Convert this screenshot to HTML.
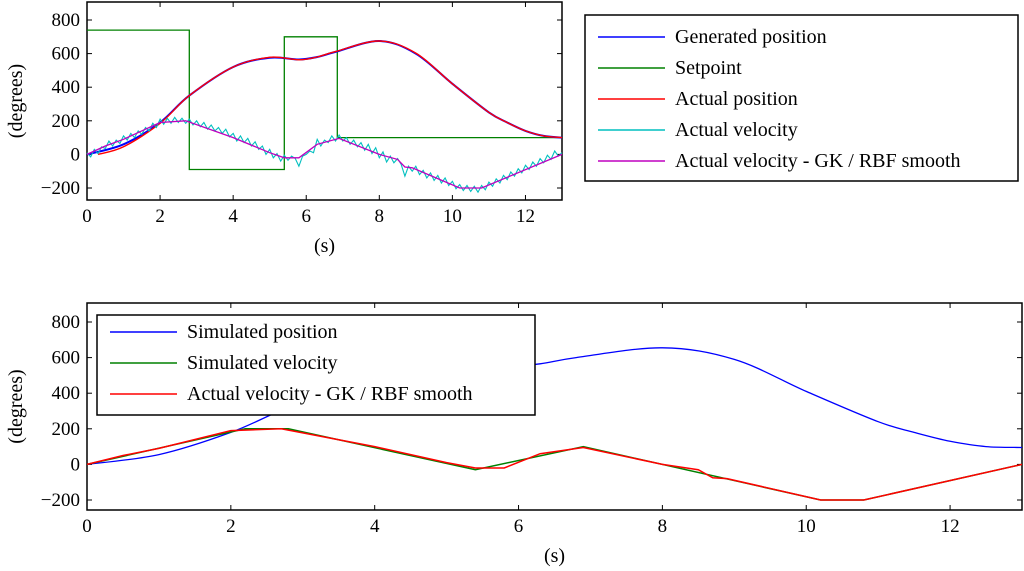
<!DOCTYPE html>
<html><head><meta charset="utf-8">
<style>
html,body{margin:0;padding:0;background:#fff;}
svg{display:block;font-family:"Liberation Serif",serif;}
</style></head>
<body>
<svg id="c" width="1024" height="571" viewBox="0 0 1024 571" xmlns="http://www.w3.org/2000/svg"></svg>
<script>
// ---- data ----
const posT = [0,1,2,2.8,4,5,5.8,6.3,6.8,8,9,10,11,11.5,12,12.5,13];
const genPos = [0,60,190,350,520,575,565,580,610,675,600,420,250,190,140,110,100];
const actPosT = [0.3,1,2,2.8,4,5,5.8,6.3,6.8,8,9,10,11,11.5,12,12.5,13];
const actPos = [0,45,185,350,520,578,563,580,612,675,603,420,250,190,140,110,100];
const spT = [0,2.8,2.8,5.4,5.4,6.85,6.85,13];
const spVal = [740,740,-90,-90,700,700,100,100];
const smT = [0,0.5,1,2,2.7,4,5,5.4,5.8,6.3,6.9,8,8.5,8.7,8.9,10.2,10.8,13];
const smVel = [0,50,90,190,200,100,10,-20,-20,60,95,0,-30,-75,-80,-200,-200,0];
const noisyVel = [10,-15,30,5,45,35,80,50,85,65,110,85,125,100,140,120,160,140,185,160,210,180,215,185,220,190,215,185,210,175,200,165,190,150,175,140,160,125,150,105,125,80,110,70,95,50,75,30,50,0,30,-20,5,-40,-5,-35,-10,-25,-70,-10,0,20,10,90,50,85,70,110,80,115,80,100,60,85,45,70,25,60,5,40,-20,15,-45,-10,-50,-25,-60,-130,-70,-100,-70,-120,-95,-140,-110,-155,-125,-170,-140,-185,-160,-205,-180,-215,-185,-220,-190,-225,-185,-210,-165,-190,-145,-170,-125,-150,-105,-130,-85,-110,-65,-90,-45,-70,-25,-50,-5,-30,20,-10,10];
const noisyStep = 0.1;
const simPosT = [0,1,2,2.8,4,5,5.8,6.3,6.8,8,9,10,11,11.5,12,12.5,13];
const simPos = [0,55,180,320,500,555,550,565,600,655,590,410,240,180,130,100,95];
const simVelT = [0,2.2,2.8,5.4,6.9,10.2,10.8,13];
const simVel = [0,200,200,-30,100,-200,-200,0];
const xTicks = [0,2,4,6,8,10,12];
const yTicks = [-200,0,200,400,600,800];

const svg = document.getElementById('c');
const NS = 'http://www.w3.org/2000/svg';
function mk(tag, attrs, parent){const e=document.createElementNS(NS,tag);for(const k in attrs)e.setAttribute(k,attrs[k]);(parent||svg).appendChild(e);return e;}

function makeAxes(x0,x1,yTop,yBot,y800,yM200,name){
  const sx=t=>x0+(x1-x0)*t/13;
  const sy=v=>y800+(yM200-y800)*(800-v)/1000;
  const g=mk('g',{});
  
  
  const fr=mk('rect',{x:x0,y:yTop,width:x1-x0,height:yBot-yTop,fill:'none',stroke:'#000','stroke-width':1.5},g);
  
  xTicks.forEach(t=>{
    mk('line',{x1:sx(t),x2:sx(t),y1:yBot,y2:yBot-5,stroke:'#000'},g);
    mk('line',{x1:sx(t),x2:sx(t),y1:yTop,y2:yTop+5,stroke:'#000'},g);
    const tx=mk('text',{x:sx(t),y:yBot+22,'text-anchor':'middle','font-size':19},g);
    
    tx.textContent=t;
  });
  yTicks.forEach(v=>{
    mk('line',{x1:x0,x2:x0+5,y1:sy(v),y2:sy(v),stroke:'#000'},g);
    mk('line',{x1:x1,x2:x1-5,y1:sy(v),y2:sy(v),stroke:'#000'},g);
    const tx=mk('text',{x:x0-7,y:sy(v)+6,'text-anchor':'end','font-size':19},g);
    
    tx.textContent=v<0?'\u2212'+(-v):v;
  });
  const xl=mk('text',{x:(x0+x1)/2,y:yBot+52,'text-anchor':'middle','font-size':20},g);
  
  xl.textContent='(s)';
  const cy=(yTop+yBot)/2;
  const yl=mk('text',{x:0,y:0,'text-anchor':'middle','font-size':20,transform:`translate(22,${cy}) rotate(-90)`},g);
  
  yl.textContent='(degrees)';
  return {sx,sy,g};
}
function linePath(ts,vs,ax){return ts.map((t,i)=>(i?'L':'M')+ax.sx(t).toFixed(1)+','+ax.sy(vs[i]).toFixed(1)).join(' ');}
function smoothPath(ts,vs,ax){
  const P=ts.map((t,i)=>[ax.sx(t),ax.sy(vs[i])]);
  let d='M'+P[0][0].toFixed(1)+','+P[0][1].toFixed(1);
  for(let i=0;i<P.length-1;i++){
    const p0=P[i-1]||P[i],p1=P[i],p2=P[i+1],p3=P[i+2]||P[i+1];
    const c1=[p1[0]+(p2[0]-p0[0])/6,p1[1]+(p2[1]-p0[1])/6];
    const c2=[p2[0]-(p3[0]-p1[0])/6,p2[1]-(p3[1]-p1[1])/6];
    d+=` C${c1[0].toFixed(1)},${c1[1].toFixed(1)} ${c2[0].toFixed(1)},${c2[1].toFixed(1)} ${p2[0].toFixed(1)},${p2[1].toFixed(1)}`;
  }
  return d;
}
function addPath(d,color,name,g,w){const p=mk('path',{d,fill:'none',stroke:color,'stroke-width':w||1.3},g);return p;}

// ---- top plot ----
const A=makeAxes(87,562,2,200,20,188,'top-plot');
const noisyT=noisyVel.map((v,i)=>i*noisyStep);
addPath(linePath(spT,spVal,A),'#008000','setpoint-line',A.g);
addPath(smoothPath(posT,genPos,A),'#0000ff','generated-position-line',A.g,2);
addPath(smoothPath(actPosT,actPos,A),'#ff0000','actual-position-line',A.g,1.4);
addPath(linePath(noisyT,noisyVel,A),'#00bfbf','actual-velocity-line',A.g,1.1);
addPath(linePath(smT,smVel,A),'#bf00bf','smoothed-velocity-line',A.g,1.3);

// ---- bottom plot ----
const B=makeAxes(87,1022,303,510,322,500,'bottom-plot');
addPath(smoothPath(simPosT,simPos,B),'#0000ff','simulated-position-line',B.g);
addPath(linePath(simVelT,simVel,B),'#008000','simulated-velocity-line',B.g,1.5);
addPath(linePath(smT,smVel,B),'#ff0000','actual-velocity-smooth-line',B.g,1.5);

// ---- legends ----
function legend(x,y,w,h,items,rowY0,rowDy,name){
  const g=mk('g',{});
  
  
  mk('rect',{x,y,width:w,height:h,fill:'#fff',stroke:'#000','stroke-width':1.5},g);
  items.forEach((it,i)=>{
    const yy=rowY0+i*rowDy;
    const e=mk('g',{},g);
    
    
    mk('line',{x1:x+13,x2:x+80,y1:yy,y2:yy,stroke:it[1],'stroke-width':1.5},e);
    const t=mk('text',{x:x+90,y:yy+6,'font-size':20},e);
    t.textContent=it[0];
  });
}
legend(585,15,433,166,[['Generated position','#0000ff'],['Setpoint','#008000'],['Actual position','#ff0000'],['Actual velocity','#00bfbf'],['Actual velocity - GK / RBF smooth','#bf00bf']],37,31,'top-legend');
legend(97,315,438,100,[['Simulated position','#0000ff'],['Simulated velocity','#008000'],['Actual velocity - GK / RBF smooth','#ff0000']],332,31,'bottom-legend');
</script>
</body></html>
